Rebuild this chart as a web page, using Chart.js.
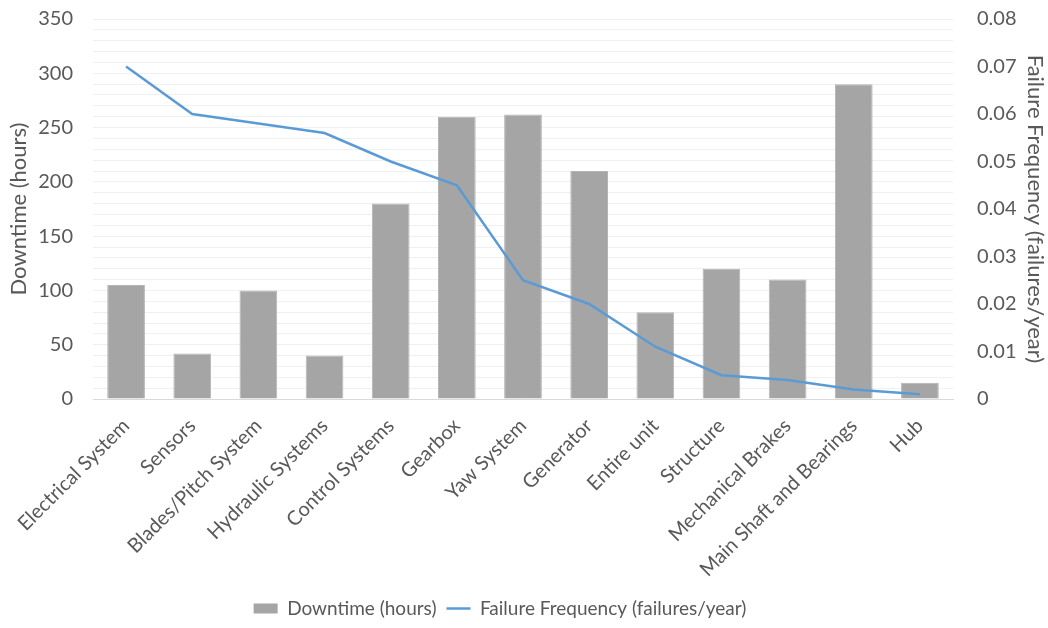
<!DOCTYPE html>
<html>
<head>
<meta charset="utf-8">
<script src="https://cdn.jsdelivr.net/npm/chart.js@4/dist/chart.umd.min.js"></script>
<style>
  html, body { margin: 0; padding: 0; background: #ffffff; }
  #wrap { width: 1048px; height: 628px; position: relative; }
</style>
</head>
<body>
<div id="wrap"><canvas id="chart" width="1048" height="628"></canvas></div>
<script>
// Wind turbine subsystems
const categories = [
  'Electrical System', 'Sensors', 'Blades/Pitch System', 'Hydraulic Systems',
  'Control Systems', 'Gearbox', 'Yaw System', 'Generator', 'Entire unit',
  'Structure', 'Mechanical Brakes', 'Main Shaft and Bearings', 'Hub'
];
// Downtime per failure (hours)
const downtimeHours = [105, 42, 100, 40, 180, 260, 262, 210, 80, 120, 110, 290, 15];
// Failure frequency (failures/year)
const failureFrequency = [0.070, 0.060, 0.058, 0.056, 0.050, 0.045, 0.025, 0.020, 0.011, 0.005, 0.004, 0.002, 0.001];

const FONT = 'Lato, "Open Sans", sans-serif';
const TEXT = '#595959';

// Keep the axes from reserving extra room around the plot
function trimPadding(scale) {
  scale.paddingTop = 0;
  scale.paddingBottom = 0;
  scale.paddingLeft = 0;
  scale.paddingRight = 0;
}

// Nudge the legend row a little to the left of the canvas centre
const legendShift = {
  id: 'legendShift',
  afterLayout(chart) {
    const lg = chart.legend;
    if (!lg) return;
    lg.left -= 24;
    lg.right -= 24;
    lg.adjustHitBoxes();
  }
};

new Chart(document.getElementById('chart'), {
  data: {
    labels: categories,
    datasets: [
      {
        type: 'line',
        label: 'Failure Frequency (failures/year)',
        data: failureFrequency,
        yAxisID: 'yFreq',
        borderColor: '#5b9bd5',
        backgroundColor: '#5b9bd5',
        borderWidth: 2.5,
        pointRadius: 0,
        pointHoverRadius: 0,
        tension: 0,
        order: 0
      },
      {
        type: 'bar',
        label: 'Downtime (hours)',
        data: downtimeHours,
        yAxisID: 'yHours',
        backgroundColor: '#a5a5a5',
        borderColor: '#b4b4b4',
        borderWidth: 1,
        barPercentage: 0.57,
        categoryPercentage: 1.0,
        order: 1
      }
    ]
  },
  plugins: [legendShift],
  options: {
    responsive: false,
    animation: false,
    layout: { padding: { top: 19, right: 0, bottom: 0, left: 0 } },
    plugins: {
      tooltip: { enabled: false },
      legend: {
        position: 'bottom',
        reverse: true,
        labels: {
          font: { family: FONT, size: 19 },
          color: TEXT,
          usePointStyle: true,
          pointStyleWidth: 24,
          boxHeight: 10,
          padding: 10,
          generateLabels(chart) {
            const items = Chart.defaults.plugins.legend.labels.generateLabels(chart);
            items.forEach(it => {
              const ds = chart.data.datasets[it.datasetIndex];
              if (ds.type === 'line') {
                it.pointStyle = 'line';
                it.lineWidth = 2.5;
                it.strokeStyle = '#5b9bd5';
              } else {
                it.pointStyle = 'rect';
                it.lineWidth = 0;
                it.fillStyle = '#a5a5a5';
              }
            });
            return items;
          }
        }
      }
    },
    scales: {
      x: {
        grid: { display: false, drawTicks: false },
        border: { display: true, color: '#d9d9d9', width: 1 },
        ticks: {
          font: { family: FONT, size: 20 },
          color: TEXT,
          maxRotation: 45,
          minRotation: 45,
          autoSkip: false,
          padding: 15
        },
        afterFit(scale) { scale.height = 190; trimPadding(scale); }
      },
      yHours: {
        position: 'left',
        min: 0,
        max: 350,
        grid: { color: '#f0f0f0', drawTicks: false },
        border: { display: false },
        ticks: {
          stepSize: 10,
          autoSkip: false,
          font: { family: FONT, size: 20 },
          color: TEXT,
          padding: 20,
          callback: v => (v % 50 === 0 ? String(v) : '')
        },
        title: {
          display: true,
          text: 'Downtime (hours)',
          font: { family: FONT, size: 22 },
          color: TEXT,
          padding: { top: 6, bottom: 0 }
        },
        afterFit(scale) { scale.width = 93; trimPadding(scale); }
      },
      yFreq: {
        position: 'right',
        min: 0,
        max: 0.08,
        grid: { display: false, drawTicks: false },
        border: { display: false },
        ticks: {
          stepSize: 0.01,
          font: { family: FONT, size: 20 },
          color: TEXT,
          padding: 24,
          callback: v => String(Math.round(v * 100) / 100)
        },
        title: {
          display: true,
          text: 'Failure Frequency (failures/year)',
          font: { family: FONT, size: 22 },
          color: TEXT,
          padding: { top: 0, bottom: 0 }
        },
        afterFit(scale) { scale.width = 95; trimPadding(scale); }
      }
    }
  }
});
</script>
</body>
</html>
